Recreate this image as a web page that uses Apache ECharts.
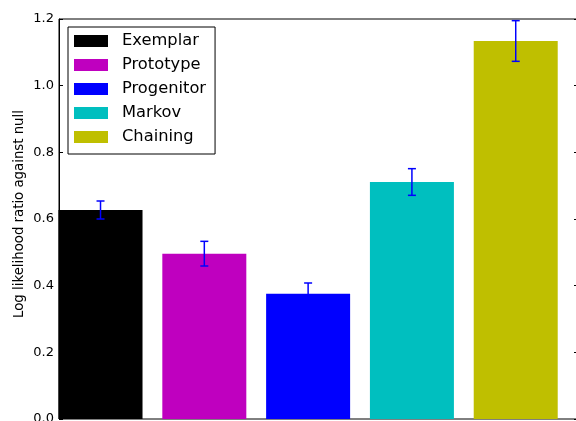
<!DOCTYPE html>
<html><head><meta charset="utf-8">
<script src="https://cdn.jsdelivr.net/npm/echarts@6/dist/echarts.min.js"></script>
<style>html,body{margin:0;padding:0;background:#fff;overflow:hidden}#c{width:576px;height:421px}</style>
</head><body><div id="c"></div>
<script>
const categories = ['Exemplar','Prototype','Progenitor','Markov','Chaining'];
const positions = [0.4, 1.4, 2.4, 3.4, 4.4];
const values = [0.627, 0.496, 0.376, 0.711, 1.134];
const errors = [0.027, 0.037, 0.032, 0.040, 0.061];
const colors = ['#000000','#bf00bf','#0000ff','#00bfbf','#bfbf00'];
const yTicks = [0.0, 0.2, 0.4, 0.6, 0.8, 1.0, 1.2];

const chart = echarts.init(document.getElementById('c'), null, {renderer:'canvas'});
const font = 'DejaVu Sans';
const barSeries = categories.map((name, i) => ({
  name: name,
  type: 'bar',
  stack: 'all',
  barWidth: 84,
  itemStyle: {color: colors[i]},
  data: [[positions[i], values[i]]],
  z: 2
}));
const errData = categories.map((c, i) => [positions[i], values[i] - errors[i], values[i] + errors[i]]);
const option = {
  animation: false,
  textStyle: {fontFamily: font},
  grid: {left: 59, right: -2, top: 19, bottom: 2, show: true, borderColor: '#000', borderWidth: 1,
         containLabel: false, outerBoundsMode: 'none'},
  legend: {
    orient: 'vertical', left: 68, top: 27,
    data: categories,
    itemWidth: 34, itemHeight: 12, itemGap: 6,
    padding: [5, 9, 8, 6],
    borderColor: '#000', borderWidth: 1, borderRadius: 0,
    backgroundColor: '#fff',
    icon: 'rect',
    textStyle: {fontFamily: font, fontSize: 16.3, color: '#000', lineHeight: 18, padding: [0, 0, 0, 9]}
  },
  xAxis: {
    type: 'value', min: 0, max: 5,
    axisLine: {show: false}, axisTick: {show: false}, axisLabel: {show: false}, splitLine: {show: false}
  },
  yAxis: [{
    type: 'value', min: 0, max: 1.2, interval: 0.2,
    name: 'Log likelihood ratio against null',
    nameLocation: 'middle', nameGap: 33, nameMoveOverlap: false,
    nameTextStyle: {fontFamily: font, fontSize: 13.3, color: '#000', padding: [0, 0, 0, 10]},
    axisLine: {show: true, lineStyle: {color: '#000', width: 1}},
    axisTick: {show: true, inside: true, length: 4, lineStyle: {color: '#000'}},
    axisLabel: {fontFamily: font, fontSize: 13, color: '#000', margin: 5, formatter: v => v.toFixed(1)},
    splitLine: {show: false}
  }, {
    type: 'value', min: 0, max: 1.2, interval: 0.2, position: 'right',
    axisLine: {show: true, lineStyle: {color: '#000', width: 1}},
    axisTick: {show: true, inside: true, length: 4, lineStyle: {color: '#000'}},
    axisLabel: {show: false}, splitLine: {show: false}
  }],
  series: barSeries.concat([{
    type: 'custom',
    name: 'err',
    z: 5,
    data: errData,
    renderItem: function (params, api) {
      const x = api.value(0);
      const lo = api.coord([x, api.value(1)]);
      const hi = api.coord([x, api.value(2)]);
      const cap = 4;
      const style = {stroke: '#0000ff', lineWidth: 1.5};
      return {type: 'group', children: [
        {type: 'line', shape: {x1: lo[0], y1: lo[1], x2: hi[0], y2: hi[1]}, style: style},
        {type: 'line', shape: {x1: lo[0]-cap, y1: lo[1], x2: lo[0]+cap, y2: lo[1]}, style: style},
        {type: 'line', shape: {x1: hi[0]-cap, y1: hi[1], x2: hi[0]+cap, y2: hi[1]}, style: style}
      ]};
    }
  }])
};
chart.setOption(option);
</script></body></html>
